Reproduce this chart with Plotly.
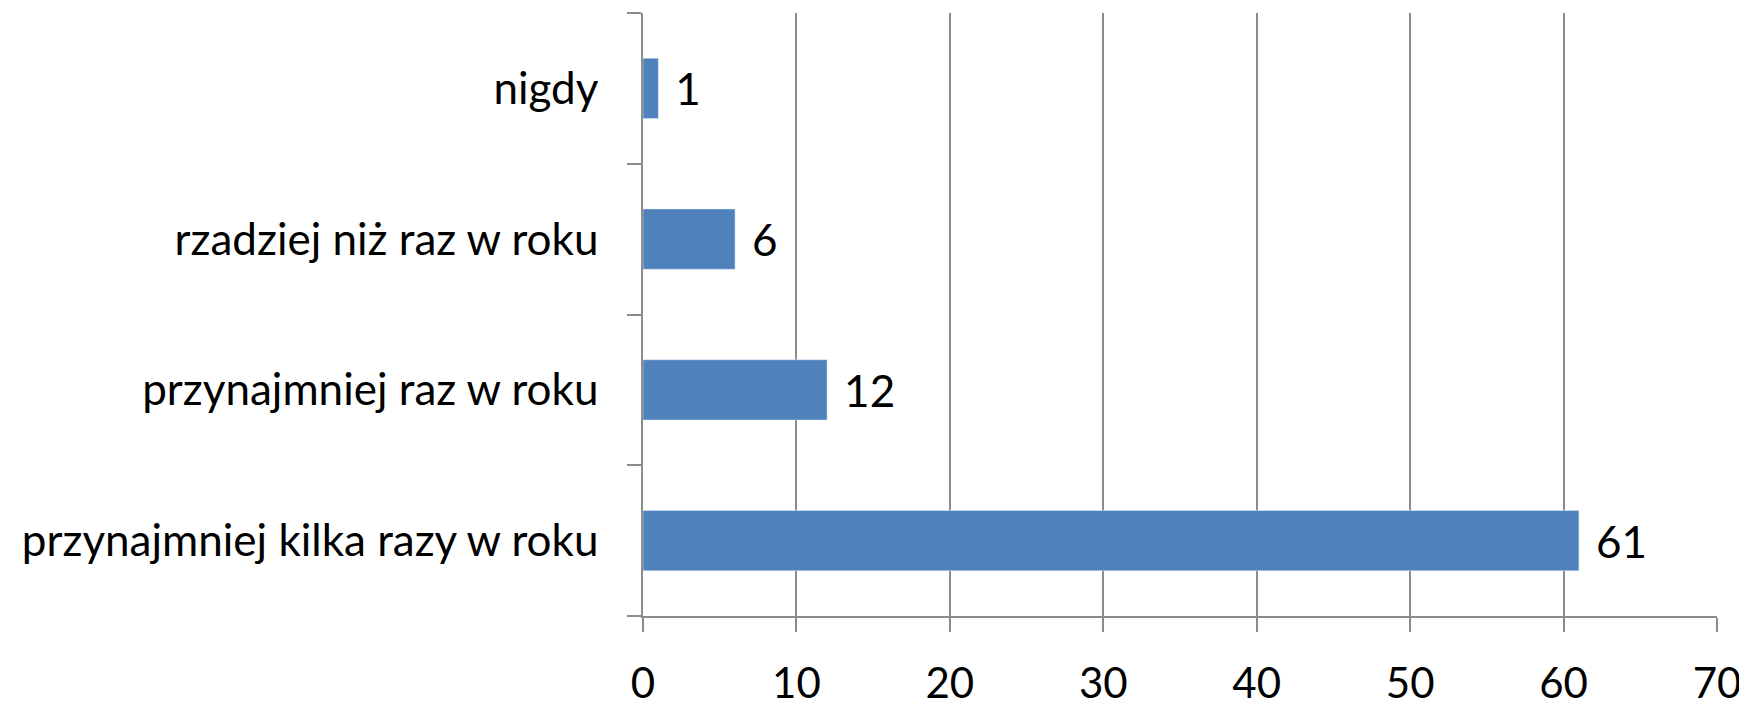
import plotly.graph_objects as go

categories = ["przynajmniej kilka razy w roku", "przynajmniej raz w roku",
              "rzadziej niż raz w roku", "nigdy"]
values = [61, 12, 6, 1]
x_ticks = [0, 10, 20, 30, 40, 50, 60, 70]

FONT = "Lato"
GRID = "#8c8c8c"
FS = 44

fig = go.Figure(go.Bar(
    y=categories, x=values, orientation="h",
    marker=dict(color="#4F81BD"),
    width=0.4,
    text=[f" \u200a{v}" for v in values], textposition="outside",
    textfont=dict(family=FONT, size=FS, color="black"),
    cliponaxis=False,
))

# page body has an 8px default margin, so the figure is offset by 8px
fig.update_layout(
    width=1739, height=703,
    margin=dict(l=635, r=30, t=5, b=95),
    paper_bgcolor="white", plot_bgcolor="white",
    font=dict(family=FONT, size=FS, color="black"),
    showlegend=False,
)
fig.update_xaxes(
    range=[0, 70], tickvals=x_ticks, ticktext=[str(t) for t in x_ticks],
    showgrid=True, gridcolor=GRID, gridwidth=1.5,
    showline=True, linecolor=GRID, linewidth=1.5,
    ticks="outside", ticklen=14, tickcolor=GRID, tickwidth=1.5,
    zeroline=False, ticklabelstandoff=16, automargin=False,
    tickfont=dict(family=FONT, size=42),
)
fig.update_yaxes(
    categoryorder="array", categoryarray=categories,
    showgrid=False, showline=True, linecolor=GRID, linewidth=1.5,
    ticks="outside", ticklen=14, tickcolor=GRID, tickwidth=1.5,
    tickson="boundaries", ticklabelstandoff=34, automargin=False,
    tickfont=dict(family=FONT, size=FS),
)

fig.write_html("out.html")
